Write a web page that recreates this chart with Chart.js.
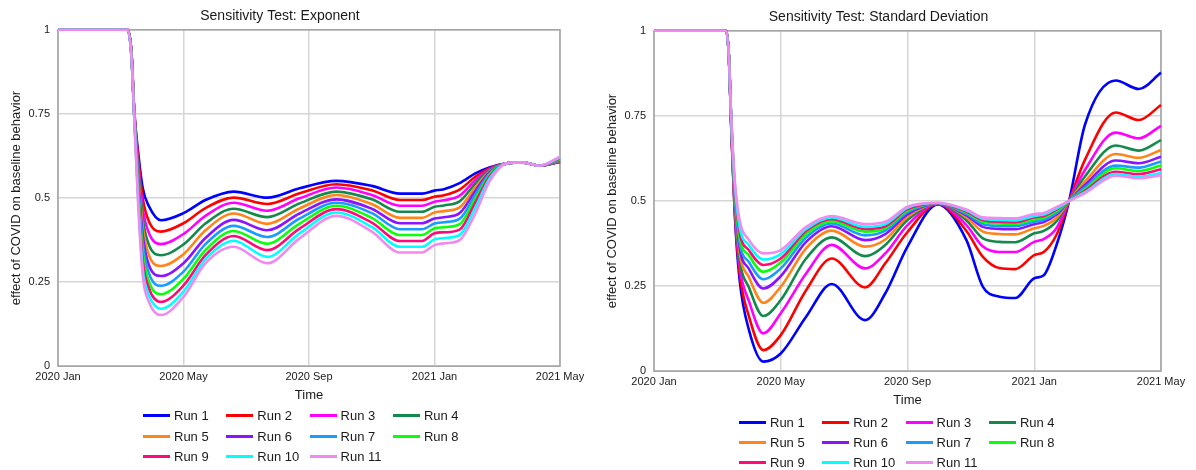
<!DOCTYPE html>
<html>
<head>
<meta charset="utf-8">
<script src="https://cdn.jsdelivr.net/npm/chart.js@4.4.1/dist/chart.umd.min.js"></script>
<style>
  body { margin: 0; background: #fff; width: 1196px; height: 470px; overflow: hidden;
         font-family: 'Liberation Sans', Arial, sans-serif; }
  .panel { position: absolute; top: 0; height: 470px; }
  #p1 { left: 0; width: 596px; }
  #p2 { left: 596px; width: 600px; }
  .box { position: absolute; left: 0; top: 0; }
  .legend { position: absolute; left: 143px; display: grid;
            grid-template-columns: repeat(4, 83.3px); font-size: 13px; color: #1a1a1a; }
  .legend div { display: flex; align-items: center; white-space: nowrap; }
  .legend .sw { display: inline-block; width: 27px; height: 3px; margin-right: 4px; }
</style>
</head>
<body>
<div class="panel" id="p1">
  <div class="box" style="width:596px;height:414px"><canvas id="chartExp"></canvas></div>
  <div class="legend" id="legExp" style="top:405.5px;grid-auto-rows:20.5px"></div>
</div>
<div class="panel" id="p2">
  <div class="box" style="width:600px;height:419px"><canvas id="chartSd"></canvas></div>
  <div class="legend" id="legSd" style="top:412.7px;grid-auto-rows:20px"></div>
</div>
<script>
// time in months since 2020 Jan
const xTickMonths = [0, 4, 8, 12, 16];
const xTickLabels = ['2020 Jan', '2020 May', '2020 Sep', '2021 Jan', '2021 May'];
const yTicks = [0, 0.25, 0.5, 0.75, 1];
const yTickLabels = ['0', '0.25', '0.5', '0.75', '1'];

const runNames = ['Run 1', 'Run 2', 'Run 3', 'Run 4', 'Run 5', 'Run 6', 'Run 7', 'Run 8', 'Run 9', 'Run 10', 'Run 11'];
const runColors = ['#0000ff', '#ff0000', '#ff00ff', '#138a4c', '#ff8419', '#8a14ff', '#1a9cff', '#0aff0a', '#ff0a78', '#00ffff', '#f08af0'];

// Sensitivity Test: Exponent
const tExp = [0, 2.22, 2.34, 2.43, 2.55, 2.7, 2.9, 3.28, 4.0, 4.7, 5.6, 6.67, 7.7, 8.87, 10.0, 10.9, 11.6, 12.0, 12.3, 12.8, 13.3, 13.75, 14.3, 14.8, 15.34, 16];
const exp1  = [1.0, 1.0, 0.935, 0.76, 0.640, 0.530, 0.475, 0.434, 0.455, 0.494, 0.519, 0.501, 0.529, 0.551, 0.536, 0.513, 0.513, 0.522, 0.526, 0.544, 0.573, 0.591, 0.603, 0.606, 0.596, 0.607];
const exp2  = [1.0, 1.0, 0.933, 0.758, 0.625, 0.500, 0.430, 0.400, 0.425, 0.470, 0.501, 0.482, 0.514, 0.541, 0.523, 0.494, 0.494, 0.504, 0.508, 0.525, 0.563, 0.588, 0.603, 0.606, 0.596, 0.608];
const exp3  = [1.0, 1.0, 0.932, 0.756, 0.610, 0.470, 0.395, 0.363, 0.393, 0.447, 0.486, 0.462, 0.499, 0.531, 0.509, 0.477, 0.477, 0.489, 0.493, 0.507, 0.553, 0.585, 0.603, 0.606, 0.596, 0.609];
const exp4  = [1.0, 1.0, 0.930, 0.754, 0.595, 0.440, 0.360, 0.330, 0.362, 0.424, 0.468, 0.443, 0.484, 0.519, 0.496, 0.459, 0.459, 0.474, 0.478, 0.490, 0.543, 0.582, 0.603, 0.606, 0.596, 0.610];
const exp5  = [1.0, 1.0, 0.929, 0.752, 0.580, 0.415, 0.330, 0.298, 0.333, 0.404, 0.454, 0.423, 0.469, 0.509, 0.482, 0.441, 0.441, 0.457, 0.461, 0.472, 0.532, 0.579, 0.603, 0.606, 0.596, 0.611];
const exp6  = [1.0, 1.0, 0.928, 0.750, 0.565, 0.390, 0.300, 0.268, 0.306, 0.381, 0.435, 0.404, 0.454, 0.496, 0.468, 0.425, 0.425, 0.439, 0.443, 0.455, 0.521, 0.576, 0.603, 0.606, 0.596, 0.612];
const exp7  = [1.0, 1.0, 0.926, 0.748, 0.550, 0.365, 0.276, 0.239, 0.281, 0.363, 0.417, 0.384, 0.439, 0.486, 0.455, 0.407, 0.407, 0.424, 0.428, 0.438, 0.510, 0.572, 0.603, 0.606, 0.596, 0.614];
const exp8  = [1.0, 1.0, 0.925, 0.746, 0.535, 0.340, 0.251, 0.214, 0.260, 0.345, 0.402, 0.364, 0.424, 0.477, 0.441, 0.390, 0.390, 0.410, 0.413, 0.422, 0.498, 0.568, 0.603, 0.606, 0.596, 0.616];
const exp9  = [1.0, 1.0, 0.923, 0.744, 0.520, 0.315, 0.231, 0.191, 0.240, 0.330, 0.387, 0.345, 0.409, 0.467, 0.427, 0.372, 0.372, 0.395, 0.398, 0.406, 0.486, 0.563, 0.603, 0.606, 0.596, 0.618];
const exp10 = [1.0, 1.0, 0.922, 0.742, 0.505, 0.290, 0.211, 0.171, 0.222, 0.318, 0.373, 0.325, 0.395, 0.457, 0.414, 0.355, 0.355, 0.377, 0.381, 0.390, 0.471, 0.557, 0.603, 0.606, 0.596, 0.620];
const exp11 = [1.0, 1.0, 0.920, 0.740, 0.490, 0.270, 0.191, 0.152, 0.206, 0.306, 0.355, 0.306, 0.380, 0.447, 0.400, 0.338, 0.338, 0.360, 0.365, 0.375, 0.454, 0.549, 0.603, 0.606, 0.596, 0.623];

// Sensitivity Test: Standard Deviation
const tSd = [0, 2.28, 2.36, 2.44, 2.55, 2.7, 3.0, 3.45, 4.0, 4.8, 5.61, 6.66, 7.3, 8.0, 8.96, 9.86, 10.38, 10.9, 11.4, 12.0, 12.3, 12.7, 13.1, 13.6, 14.57, 15.3, 16];
const sd1  = [1.0, 1.0, 0.93, 0.710, 0.46, 0.27, 0.12, 0.028, 0.052, 0.160, 0.256, 0.150, 0.229, 0.366, 0.490, 0.385, 0.248, 0.219, 0.215, 0.273, 0.282, 0.370, 0.5, 0.724, 0.854, 0.829, 0.877];
const sd2  = [1.0, 1.0, 0.93, 0.713, 0.47, 0.29, 0.16, 0.062, 0.106, 0.238, 0.331, 0.246, 0.317, 0.409, 0.492, 0.412, 0.336, 0.303, 0.300, 0.341, 0.350, 0.400, 0.5, 0.621, 0.760, 0.738, 0.782];
const sd3  = [1.0, 1.0, 0.93, 0.716, 0.48, 0.31, 0.205, 0.111, 0.170, 0.287, 0.371, 0.302, 0.346, 0.429, 0.492, 0.429, 0.366, 0.350, 0.350, 0.380, 0.388, 0.420, 0.5, 0.591, 0.701, 0.684, 0.721];
const sd4  = [1.0, 1.0, 0.93, 0.719, 0.49, 0.33, 0.245, 0.162, 0.209, 0.331, 0.393, 0.338, 0.371, 0.444, 0.492, 0.443, 0.390, 0.380, 0.379, 0.405, 0.412, 0.440, 0.5, 0.572, 0.663, 0.648, 0.679];
const sd5  = [1.0, 1.0, 0.93, 0.722, 0.50, 0.35, 0.275, 0.201, 0.248, 0.361, 0.413, 0.366, 0.387, 0.454, 0.492, 0.452, 0.410, 0.403, 0.402, 0.420, 0.427, 0.450, 0.5, 0.557, 0.638, 0.627, 0.650];
const sd6  = [1.0, 1.0, 0.93, 0.725, 0.51, 0.365, 0.30, 0.243, 0.279, 0.380, 0.426, 0.385, 0.403, 0.461, 0.492, 0.458, 0.424, 0.418, 0.417, 0.432, 0.438, 0.460, 0.5, 0.547, 0.619, 0.611, 0.630];
const sd7  = [1.0, 1.0, 0.93, 0.728, 0.52, 0.38, 0.32, 0.270, 0.302, 0.393, 0.434, 0.399, 0.413, 0.467, 0.493, 0.462, 0.432, 0.427, 0.426, 0.439, 0.445, 0.465, 0.5, 0.540, 0.604, 0.598, 0.616];
const sd8  = [1.0, 1.0, 0.93, 0.731, 0.53, 0.395, 0.34, 0.292, 0.319, 0.403, 0.441, 0.410, 0.420, 0.472, 0.493, 0.466, 0.439, 0.434, 0.433, 0.446, 0.451, 0.470, 0.5, 0.534, 0.596, 0.588, 0.604];
const sd9  = [1.0, 1.0, 0.93, 0.734, 0.54, 0.41, 0.355, 0.312, 0.331, 0.412, 0.447, 0.418, 0.426, 0.476, 0.493, 0.469, 0.444, 0.439, 0.438, 0.452, 0.456, 0.475, 0.5, 0.530, 0.586, 0.579, 0.593];
const sd10 = [1.0, 1.0, 0.93, 0.737, 0.55, 0.425, 0.37, 0.328, 0.344, 0.418, 0.452, 0.424, 0.432, 0.480, 0.494, 0.472, 0.448, 0.444, 0.443, 0.456, 0.460, 0.478, 0.5, 0.526, 0.579, 0.571, 0.583];
const sd11 = [1.0, 1.0, 0.93, 0.740, 0.56, 0.445, 0.385, 0.346, 0.356, 0.424, 0.456, 0.432, 0.439, 0.483, 0.495, 0.475, 0.452, 0.450, 0.449, 0.462, 0.465, 0.482, 0.5, 0.523, 0.574, 0.567, 0.576];

const expRuns = [exp1, exp2, exp3, exp4, exp5, exp6, exp7, exp8, exp9, exp10, exp11];
const sdRuns = [sd1, sd2, sd3, sd4, sd5, sd6, sd7, sd8, sd9, sd10, sd11];

Chart.defaults.font.family = "'Liberation Sans', Arial, sans-serif";
Chart.defaults.color = '#1a1a1a';

// grey frame round the plot area
const framePlugin = {
  id: 'frame',
  beforeDatasetsDraw(chart) {
    const { ctx, chartArea: a } = chart;
    ctx.save();
    ctx.strokeStyle = '#a3a3a3';
    ctx.lineWidth = 1.5;
    ctx.strokeRect(a.left, a.top, a.right - a.left, a.bottom - a.top);
    ctx.restore();
  }
};

function makeChart(id, title, times, runs, titleTop, padRight) {
  const datasets = runs.map((vals, i) => ({
    label: runNames[i],
    data: times.map((t, j) => ({ x: t, y: vals[j] })),
    borderColor: runColors[i],
    backgroundColor: runColors[i],
    borderWidth: 2.6,
    pointRadius: 0,
    cubicInterpolationMode: 'monotone',
    order: runs.length - i,
    clip: false
  }));

  return new Chart(document.getElementById(id), {
    type: 'line',
    data: { datasets },
    plugins: [framePlugin],
    options: {
      responsive: true,
      maintainAspectRatio: false,
      animation: false,
      layout: { padding: { left: 0, right: padRight, top: 0, bottom: 0 } },
      plugins: {
        legend: { display: false },
        tooltip: { enabled: false },
        title: {
          display: true, text: title, color: '#1a1a1a',
          font: { size: 14, weight: 'normal' },
          padding: { top: titleTop, bottom: 5 }
        }
      },
      scales: {
        x: {
          type: 'linear', min: 0, max: 16,
          afterBuildTicks: s => { s.ticks = xTickMonths.map(v => ({ value: v })); },
          ticks: {
            autoSkip: false, maxRotation: 0, padding: 4,
            font: { size: 11 }, color: '#1a1a1a',
            callback: v => xTickLabels[xTickMonths.indexOf(v)]
          },
          grid: { color: '#d6d6d6', lineWidth: 1.5, drawTicks: false },
          border: { display: false },
          title: { display: true, text: 'Time', font: { size: 13 }, color: '#1a1a1a', padding: { top: 0, bottom: 11 } }
        },
        y: {
          min: 0, max: 1,
          afterBuildTicks: s => { s.ticks = yTicks.map(v => ({ value: v })); },
          afterFit: s => { s.width = 58; },
          ticks: {
            padding: 8, font: { size: 11 }, color: '#1a1a1a',
            callback: v => yTickLabels[yTicks.indexOf(v)]
          },
          grid: { color: '#d6d6d6', lineWidth: 1.5, drawTicks: false },
          border: { display: false },
          title: {
            display: true, text: 'effect of COVID on baseline behavior',
            font: { size: 13 }, color: '#1a1a1a', padding: { top: 9, bottom: 0 }
          }
        }
      }
    }
  });
}

function makeLegend(id) {
  const el = document.getElementById(id);
  runNames.forEach((name, i) => {
    const item = document.createElement('div');
    const sw = document.createElement('span');
    sw.className = 'sw';
    sw.style.background = runColors[i];
    item.appendChild(sw);
    item.appendChild(document.createTextNode(name));
    el.appendChild(item);
  });
}

makeChart('chartExp', 'Sensitivity Test: Exponent', tExp, expRuns, 8, 36);
makeChart('chartSd', 'Sensitivity Test: Standard Deviation', tSd, sdRuns, 9, 35);
makeLegend('legExp');
makeLegend('legSd');
</script>
</body>
</html>
